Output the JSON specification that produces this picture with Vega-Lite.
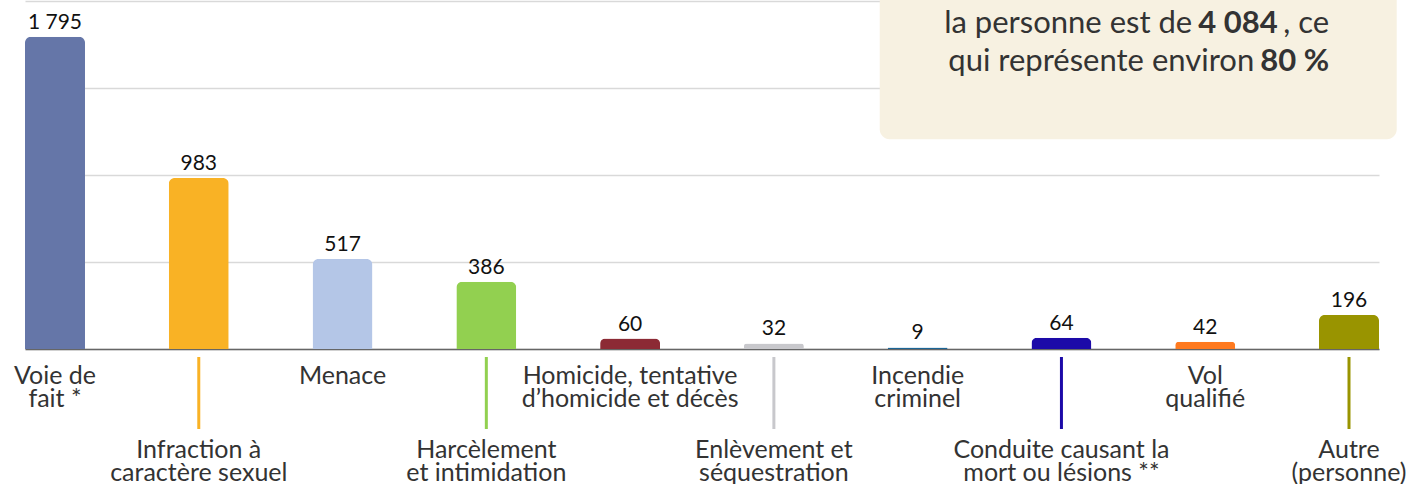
{
  "$schema": "https://vega.github.io/schema/vega-lite/v6.json",
  "width": 1354,
  "height": 348,
  "autosize": {"type": "none"},
  "padding": {"left": 25, "right": 32, "top": 1, "bottom": 135},
  "background": "white",
  "config": {
    "view": {"stroke": null},
    "font": "Lato",
    "locale": {"number": {"decimal": ",", "thousands": "\u00a0", "grouping": [3], "currency": ["", "\u00a0$"]}}
  },
  "data": {
    "values": [
      {"ordre": 1, "categorie": "Voie de\nfait *", "valeur": 1795},
      {"ordre": 2, "categorie": "Infraction à\ncaractère sexuel", "valeur": 983},
      {"ordre": 3, "categorie": "Menace", "valeur": 517},
      {"ordre": 4, "categorie": "Harcèlement\net intimidation", "valeur": 386},
      {"ordre": 5, "categorie": "Homicide, tentative\nd’homicide et décès", "valeur": 60},
      {"ordre": 6, "categorie": "Enlèvement et\nséquestration", "valeur": 32},
      {"ordre": 7, "categorie": "Incendie\ncriminel", "valeur": 9},
      {"ordre": 8, "categorie": "Conduite causant la\nmort ou lésions **", "valeur": 64},
      {"ordre": 9, "categorie": "Vol\nqualifié", "valeur": 42},
      {"ordre": 10, "categorie": "Autre\n(personne)", "valeur": 196}
    ]
  },
  "layer": [
    {
      "mark": {"type": "bar", "cornerRadiusTopLeft": 6, "cornerRadiusTopRight": 6},
      "encoding": {
        "x": {
          "field": "categorie", "type": "nominal", "sort": null,
          "scale": {"paddingInner": 0.5827, "paddingOuter": 0},
          "axis": {"labels": false, "ticks": false, "title": null, "domainColor": "#666666", "domainWidth": 1.5}
        },
        "y": {
          "field": "valeur", "type": "quantitative",
          "scale": {"domain": [0, 2000], "nice": false},
          "axis": {"values": [0, 500, 1000, 1500, 2000], "labels": false, "ticks": false, "domain": false, "title": null, "grid": true, "gridColor": "#d9d9d9", "gridWidth": 1.5}
        },
        "color": {
          "field": "categorie", "type": "nominal", "legend": null,
          "scale": {
            "domain": ["Voie de\nfait *", "Infraction à\ncaractère sexuel", "Menace", "Harcèlement\net intimidation", "Homicide, tentative\nd’homicide et décès", "Enlèvement et\nséquestration", "Incendie\ncriminel", "Conduite causant la\nmort ou lésions **", "Vol\nqualifié", "Autre\n(personne)"],
            "range": ["#6576A8", "#F9B225", "#B4C6E7", "#92D050", "#8C2A35", "#C8C8CC", "#1C6596", "#1C0AA8", "#FF7A1F", "#999400"]
          }
        }
      }
    },
    {
      "mark": {"type": "text", "baseline": "bottom", "dy": -4, "fontSize": 21, "color": "#111111"},
      "encoding": {
        "x": {"field": "categorie", "type": "nominal", "sort": null},
        "y": {"field": "valeur", "type": "quantitative"},
        "text": {"field": "valeur", "type": "quantitative", "format": ",d"}
      }
    },
    {
      "transform": [{"filter": "datum.ordre % 2 == 1"}],
      "mark": {"type": "text", "baseline": "alphabetic", "align": "center", "dy": 35, "fontSize": 25, "lineHeight": 23, "lineBreak": "\n", "color": "#333333"},
      "encoding": {
        "x": {"field": "categorie", "type": "nominal", "sort": null},
        "y": {"datum": 0},
        "text": {"field": "categorie"}
      }
    },
    {
      "transform": [{"filter": "datum.ordre % 2 == 0"}],
      "mark": {"type": "text", "baseline": "alphabetic", "align": "center", "dy": 109, "fontSize": 25, "lineHeight": 23, "lineBreak": "\n", "color": "#333333"},
      "encoding": {
        "x": {"field": "categorie", "type": "nominal", "sort": null},
        "y": {"datum": 0},
        "text": {"field": "categorie"}
      }
    },
    {
      "transform": [{"filter": "datum.ordre % 2 == 0"}],
      "mark": {"type": "rule", "strokeWidth": 3, "yOffset": 8, "y2Offset": 80},
      "encoding": {
        "x": {"field": "categorie", "type": "nominal", "sort": null},
        "y": {"datum": 0},
        "y2": {"datum": 0},
        "color": {"field": "categorie", "type": "nominal", "legend": null}
      }
    },
    {
      "data": {"values": [{"boite": "encadré"}]},
      "mark": {"type": "bar", "width": 517, "xOffset": -67, "cornerRadius": 10, "color": "#F7F1E1"},
      "encoding": {
        "x": {"datum": "Vol\nqualifié"},
        "y": {"datum": 2200},
        "y2": {"datum": 1205}
      }
    },
    {
      "data": {"values": [{"t": "la personne est de"}]},
      "mark": {"type": "text", "align": "right", "baseline": "alphabetic", "dx": -13, "fontSize": 31, "color": "#333333"},
      "encoding": {"x": {"datum": "Vol\nqualifié"}, "y": {"datum": 1816}, "text": {"field": "t"}}
    },
    {
      "data": {"values": [{"t": "4 084"}]},
      "mark": {"type": "text", "align": "left", "baseline": "alphabetic", "dx": -7, "fontSize": 31, "fontWeight": "bold", "color": "#333333"},
      "encoding": {"x": {"datum": "Vol\nqualifié"}, "y": {"datum": 1816}, "text": {"field": "t"}}
    },
    {
      "data": {"values": [{"t": ", ce"}]},
      "mark": {"type": "text", "align": "left", "baseline": "alphabetic", "dx": 78, "fontSize": 31, "color": "#333333"},
      "encoding": {"x": {"datum": "Vol\nqualifié"}, "y": {"datum": 1816}, "text": {"field": "t"}}
    },
    {
      "data": {"values": [{"t": "qui représente environ"}]},
      "mark": {"type": "text", "align": "right", "baseline": "alphabetic", "dx": 49, "fontSize": 31, "color": "#333333"},
      "encoding": {"x": {"datum": "Vol\nqualifié"}, "y": {"datum": 1598}, "text": {"field": "t"}}
    },
    {
      "data": {"values": [{"t": "80 %"}]},
      "mark": {"type": "text", "align": "left", "baseline": "alphabetic", "dx": 55, "fontSize": 31, "fontWeight": "bold", "color": "#333333"},
      "encoding": {"x": {"datum": "Vol\nqualifié"}, "y": {"datum": 1598}, "text": {"field": "t"}}
    }
  ]
}
